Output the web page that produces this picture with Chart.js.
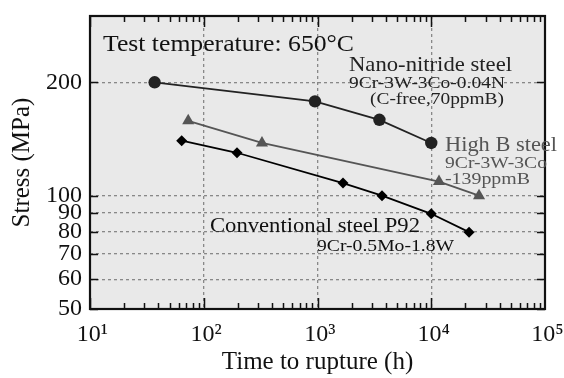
<!DOCTYPE html>
<html><head><meta charset="utf-8">
<script src="https://cdn.jsdelivr.net/npm/chart.js@4"></script>
<style>html,body{margin:0;padding:0;background:#fff;}canvas{display:block}</style>
</head><body>
<canvas id="c" width="564" height="378"></canvas>
<script>
// ---- data ----
const nanoTime = [37, 950, 3500, 10000];
const nanoStress = [200, 178, 159, 138];
const highBTime = [73, 325, 11700, 26300];
const highBStress = [158, 138, 109, 100];
const p92Time = [64, 196, 1675, 3690, 10000, 21500];
const p92Stress = [140, 130, 108, 100, 89.5, 80];

const xTickValues = [10, 100, 1000, 10000, 100000];
const xTickLabels = ['\u200910\u00B9', '\u200910\u00B2', '\u200910\u00B3', '\u200910\u2074', '\u200910\u2075'];
const yTickValues = [50, 60, 70, 80, 90, 100, 200];
const yTickLabels = ['50', '60', '70', '80', '90', '100', '200'];

const FONT = '"Liberation Serif", "Times New Roman", serif';

const notes = [
  {text: 'Test temperature: 650\u00B0C', x: 103, y: 51, size: 24, width: 251, color: '#111'},
  {text: 'Nano-nitride steel', x: 349, y: 71, size: 21, width: 163, color: '#222'},
  {text: '9Cr-3W-3Co-0.04N', x: 349, y: 88, size: 17, width: 156, color: '#222'},
  {text: '(C-free,70ppmB)', x: 370, y: 104, size: 17, width: 134, color: '#222'},
  {text: 'High B steel', x: 445, y: 151, size: 22, width: 112, color: '#555'},
  {text: '9Cr-3W-3Co', x: 445, y: 168, size: 17, width: 102, color: '#555'},
  {text: '-139ppmB', x: 445, y: 184, size: 17, width: 85, color: '#555'},
  {text: 'Conventional steel P92', x: 210, y: 232, size: 21, width: 210, color: '#111'},
  {text: '9Cr-0.5Mo-1.8W', x: 317, y: 251, size: 17, width: 137, color: '#111'}
];

function pts(xs, ys) { return xs.map((v, i) => ({x: v, y: ys[i]})); }

const framePlugin = {
  id: 'frame',
  beforeDraw(chart) {
    const {ctx, chartArea: a} = chart;
    ctx.save();
    ctx.fillStyle = '#e9e9e9';
    ctx.fillRect(a.left, a.top, a.right - a.left, a.bottom - a.top);
    ctx.restore();
  },
  afterDatasetsDraw(chart) {
    const {ctx, chartArea: a, scales: {x, y}} = chart;
    ctx.save();
    ctx.strokeStyle = '#111';
    ctx.lineWidth = 1.5;
    ctx.beginPath();
    for (let d = 0; d < xTickValues.length - 1; d++) {
      const base = xTickValues[d];
      for (let m = 1; m <= 9; m++) {
        const px = Math.round(x.getPixelForValue(base * m)) + 0.5;
        const len = m === 1 ? 11 : 6;
        ctx.moveTo(px, a.bottom); ctx.lineTo(px, a.bottom - len);
        ctx.moveTo(px, a.top); ctx.lineTo(px, a.top + len);
      }
    }
    yTickValues.forEach(v => {
      const py = Math.round(y.getPixelForValue(v)) + 0.5;
      ctx.moveTo(a.left, py); ctx.lineTo(a.left + 8, py);
      ctx.moveTo(a.right, py); ctx.lineTo(a.right - 8, py);
    });
    ctx.stroke();
    ctx.lineWidth = 2.2;
    ctx.strokeRect(a.left, a.top, a.right - a.left, a.bottom - a.top);
    ctx.restore();
  },
  afterDraw(chart) {
    const ctx = chart.ctx;
    notes.forEach(n => {
      ctx.save();
      ctx.font = n.size + 'px ' + FONT;
      const w = ctx.measureText(n.text).width;
      ctx.translate(n.x, n.y);
      ctx.scale(n.width / w, 1);
      ctx.fillStyle = n.color;
      ctx.textBaseline = 'alphabetic';
      ctx.textAlign = 'left';
      ctx.fillText(n.text, 0, 0);
      ctx.restore();
    });
  }
};

new Chart(document.getElementById('c'), {
  type: 'line',
  data: {
    datasets: [
      {label: 'Nano-nitride steel', data: pts(nanoTime, nanoStress),
       borderColor: '#222', backgroundColor: '#222', borderWidth: 1.8,
       pointStyle: 'circle', pointRadius: 6.2, pointBackgroundColor: '#222', pointBorderColor: '#222', pointBorderWidth: 0},
      {label: 'High B steel', data: pts(highBTime, highBStress),
       borderColor: '#555', backgroundColor: '#555', borderWidth: 1.8,
       pointStyle: 'triangle', pointRadius: 7, pointBackgroundColor: '#555', pointBorderColor: '#555', pointBorderWidth: 0},
      {label: 'Conventional steel P92', data: pts(p92Time, p92Stress),
       borderColor: '#000', backgroundColor: '#000', borderWidth: 1.8,
       pointStyle: 'rectRot', pointRadius: 5.5, pointBackgroundColor: '#000', pointBorderColor: '#000', pointBorderWidth: 0}
    ]
  },
  options: {
    responsive: false,
    animation: false,
    layout: {padding: {top: 16, right: 19, left: 0, bottom: 0}},
    plugins: {legend: {display: false}, tooltip: {enabled: false}},
    scales: {
      x: {
        type: 'logarithmic', min: 10, max: 100000,
        afterBuildTicks: s => { s.ticks = xTickValues.map(v => ({value: v})); },
        afterFit: s => { s.height = 69; s.paddingLeft = 0; s.paddingRight = 0; },
        ticks: {
          autoSkip: false, maxRotation: 0, padding: 14, color: '#111',
          font: {family: FONT, size: 24, lineHeight: 1},
          callback: (v) => { const i = xTickValues.indexOf(v); return i >= 0 ? xTickLabels[i] : ''; }
        },
        grid: {
          drawTicks: false, lineWidth: 1.3,
          color: c => (c.tick && (c.tick.value === 10 || c.tick.value === 100000)) ? 'rgba(0,0,0,0)' : '#888'
        },
        border: {display: false, dash: [3, 3]},
        title: {display: true, text: 'Time to rupture (h)', color: '#111',
                font: {family: FONT, size: 25, lineHeight: 1}, padding: {top: 0, bottom: 3}}
      },
      y: {
        type: 'logarithmic', min: 50, max: 300,
        afterBuildTicks: s => { s.ticks = yTickValues.map(v => ({value: v})); },
        afterFit: s => { s.width = 90; s.paddingTop = 0; s.paddingBottom = 0; },
        ticks: {
          autoSkip: false, padding: 8, color: '#111',
          font: {family: FONT, size: 24, lineHeight: 1},
          callback: (v) => { const i = yTickValues.indexOf(v); return i >= 0 ? yTickLabels[i] : ''; }
        },
        grid: {
          drawTicks: false, lineWidth: 1.3,
          color: c => (c.tick && c.tick.value === 50) ? 'rgba(0,0,0,0)' : '#888'
        },
        border: {display: false, dash: [3, 3]},
        title: {display: true, text: 'Stress (MPa)', color: '#111',
                font: {family: FONT, size: 25, lineHeight: 1}, padding: {top: 10, bottom: 0}}
      }
    }
  },
  plugins: [framePlugin]
});
</script>
</body></html>
